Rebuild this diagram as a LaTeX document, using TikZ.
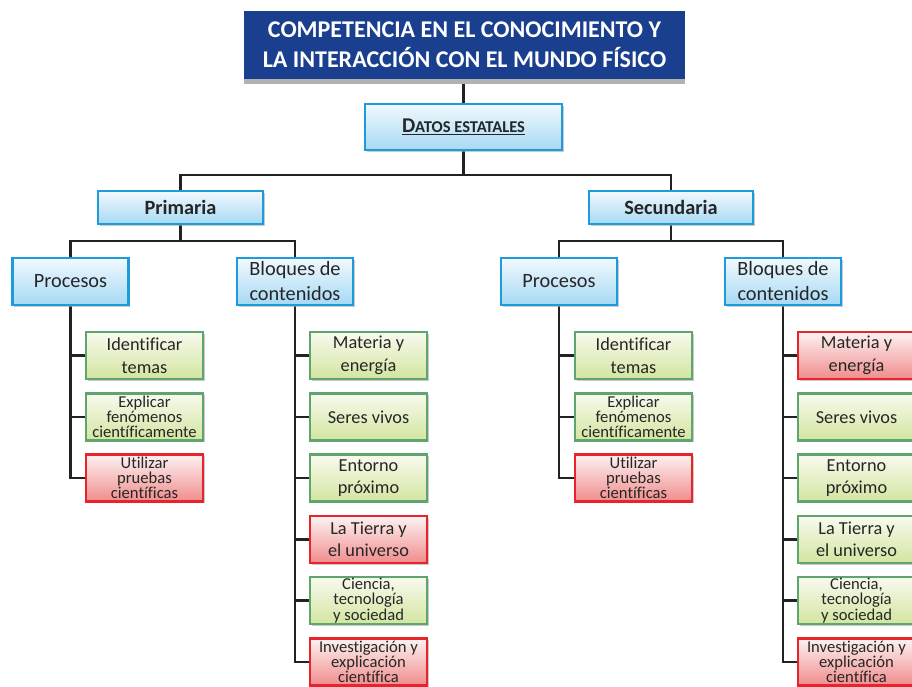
\documentclass[tikz,border=0pt]{standalone}
\usepackage{fontspec}
\setmainfont{Carlito}[Ligatures={NoCommon}]
\usetikzlibrary{backgrounds,shadows}
\definecolor{titleblue}{HTML}{1A3F8E}
\definecolor{bluebd}{HTML}{1E9BDA}
\definecolor{bluetop}{HTML}{F2F9FE}
\definecolor{bluebot}{HTML}{A6D9F4}
\definecolor{greenbd}{HTML}{5EA56E}
\definecolor{greentop}{HTML}{F8FAEE}
\definecolor{greenbot}{HTML}{D3E5A0}
\definecolor{redbd}{HTML}{E8232B}
\definecolor{redtop}{HTML}{FDF2F2}
\definecolor{redbot}{HTML}{F08C8C}
\definecolor{linecol}{HTML}{222222}
\tikzset{
  box/.style={draw, line width=2.4pt, align=center, inner sep=1pt,
    drop shadow={shadow xshift=1.5pt, shadow yshift=-1.5pt, fill=black!35, opacity=0.6},
    text=black!85},
  bluebox/.style={box, draw=bluebd, top color=bluetop, bottom color=bluebot},
  greenbox/.style={box, draw=greenbd, top color=greentop, bottom color=greenbot,
    minimum width=117pt, minimum height=47pt},
  redbox/.style={box, draw=redbd, top color=redtop, bottom color=redbot,
    minimum width=117pt, minimum height=47pt},
  wide/.style={font=\fontsize{18.3}{22.5}\selectfont},
  tight/.style={font=\fontsize{16.6}{15.2}\selectfont},
  conn/.style={draw=linecol, line width=2.8pt},
}
\begin{document}
\begin{tikzpicture}[x=1pt,y=-1pt]
\useasboundingbox (0,0) rectangle (912,686);
\clip (0,0) rectangle (912,686);
% title
\fill[black!30] (244,79) rectangle (685,84);
\node[fill=titleblue, minimum width=441pt, minimum height=68pt, inner sep=0pt,
  text=white, align=center, font=\fontsize{24}{30}\selectfont\bfseries]
  (title) at (464.5,45) {COMPETENCIA EN EL CONOCIMIENTO Y\\LA INTERACCIÓN CON EL MUNDO FÍSICO};
\node[bluebox, minimum width=197pt, minimum height=46pt, font=\bfseries]
  (datos) at (463.5,127) {\underline{{\fontsize{21}{22}\selectfont D}{\fontsize{16.5}{22}\selectfont ATOS ESTATALES}}};
\node[bluebox, minimum width=165pt, minimum height=33pt, font=\fontsize{20.3}{22}\selectfont\bfseries]
  (prim) at (180.5,207.5) {Primaria};
\node[bluebox, minimum width=164pt, minimum height=33pt, font=\fontsize{20.3}{22}\selectfont\bfseries]
  (sec) at (671,207.5) {Secundaria};
\tikzset{lvl/.style={bluebox, minimum width=116pt, minimum height=47pt, font=\fontsize{20.3}{25}\selectfont}}
\node[lvl] (proc1) at (70.5,281.5) {Procesos};
\node[lvl] (bloq1) at (295,281.5) {Bloques de\\contenidos};
\node[lvl] (proc2) at (559,281.5) {Procesos};
\node[lvl] (bloq2) at (783,281.5) {Bloques de\\contenidos};
% Primaria procesos
\node[greenbox, wide] (p1a) at (144.5,355.5) {Identificar\\temas};
\node[greenbox, tight] (p1b) at (144.5,417) {Explicar\\fenómenos\\científicamente};
\node[redbox, tight] (p1c) at (144.5,478) {Utilizar\\pruebas\\científicas};
% Primaria bloques
\node[greenbox, wide] (b1a) at (368.5,355.5) {Materia y\\energía};
\node[greenbox, wide] (b1b) at (368.5,417) {Seres vivos};
\node[greenbox, wide] (b1c) at (368.5,478) {Entorno\\próximo};
\node[redbox, wide] (b1d) at (368.5,539.5) {La Tierra y\\el universo};
\node[greenbox, tight] (b1e) at (368.5,600.5) {Ciencia,\\tecnología\\y sociedad};
\node[redbox, tight] (b1f) at (368.5,662) {Investigación y\\explicación\\científica};
% Secundaria procesos
\node[greenbox, wide] (p2a) at (633.5,355.5) {Identificar\\temas};
\node[greenbox, tight] (p2b) at (633.5,417) {Explicar\\fenómenos\\científicamente};
\node[redbox, tight] (p2c) at (633.5,478) {Utilizar\\pruebas\\científicas};
% Secundaria bloques
\node[redbox, wide] (b2a) at (856.5,355.5) {Materia y\\energía};
\node[greenbox, wide] (b2b) at (856.5,417) {Seres vivos};
\node[greenbox, wide] (b2c) at (856.5,478) {Entorno\\próximo};
\node[greenbox, wide] (b2d) at (856.5,539.5) {La Tierra y\\el universo};
\node[greenbox, tight] (b2e) at (856.5,600.5) {Ciencia,\\tecnología\\y sociedad};
\node[redbox, tight] (b2f) at (856.5,662) {Investigación y\\explicación\\científica};
\begin{scope}[on background layer]
\coordinate (dj) at (463.5,175);
\coordinate (pj) at (180.5,241);
\coordinate (sj) at (671,241);
\draw[conn] (title.south -| datos.north) -- (datos.north);
\draw[conn] (datos.south) -- (dj) -| (prim.north);
\draw[conn] (dj) -| (sec.north);
\draw[conn] (prim.south) -- (pj) -| (proc1.north);
\draw[conn] (pj) -| (bloq1.north);
\draw[conn] (sec.south) -- (sj) -| (proc2.north);
\draw[conn] (sj) -| (bloq2.north);
\foreach \c in {p1a,p1b,p1c} \draw[conn] (proc1.south) |- (\c.west);
\foreach \c in {b1a,b1b,b1c,b1d,b1e,b1f} \draw[conn] (bloq1.south) |- (\c.west);
\foreach \c in {p2a,p2b,p2c} \draw[conn] (proc2.south) |- (\c.west);
\foreach \c in {b2a,b2b,b2c,b2d,b2e,b2f} \draw[conn] (bloq2.south) |- (\c.west);
\end{scope}
\end{tikzpicture}
\end{document}
